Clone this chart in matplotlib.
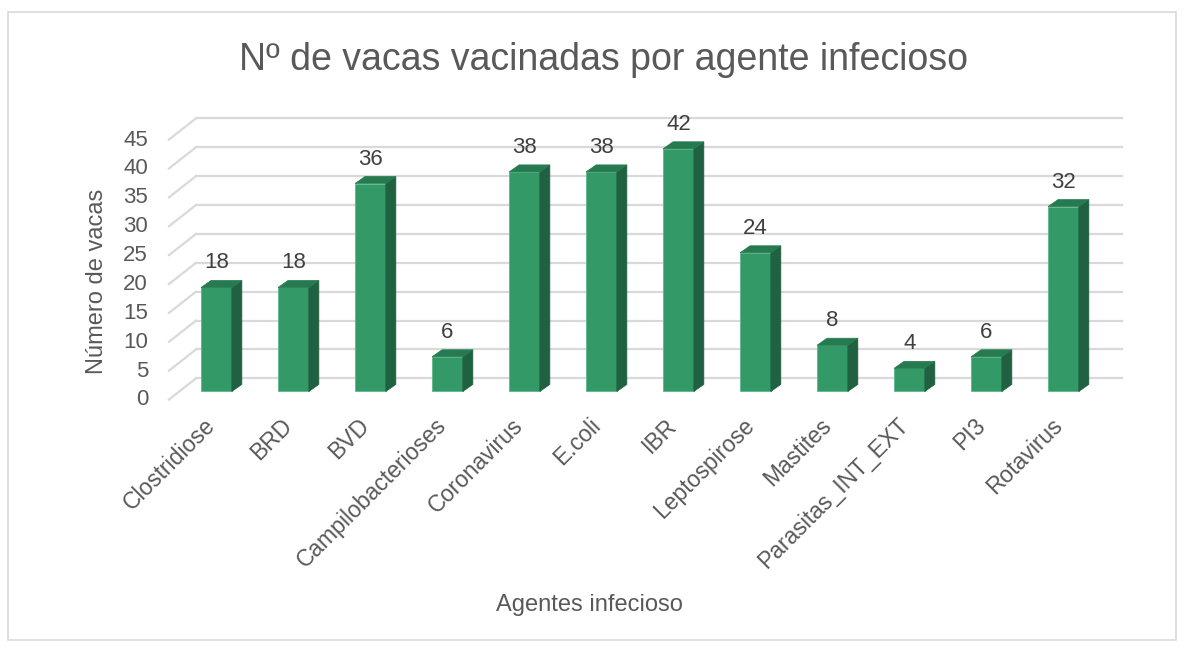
import matplotlib.pyplot as plt
from matplotlib.patches import Polygon, Rectangle
from matplotlib.transforms import ScaledTranslation

agentes = ["Clostridiose", "BRD", "BVD", "Campilobacterioses", "Coronavirus",
           "E.coli", "IBR", "Leptospirose", "Mastites", "Parasitas_INT_EXT",
           "PI3", "Rotavirus"]
vacas = [18, 18, 36, 6, 38, 38, 42, 24, 8, 4, 6, 32]
yticks = [0, 5, 10, 15, 20, 25, 30, 35, 40, 45]

front = "#339966"
side = "#1f6140"
top = "#267a50"
grid = "#d9d9d9"
txt = "#595959"

plt.rcParams["font.family"] = ["Liberation Sans", "DejaVu Sans"]

fig = plt.figure(figsize=(11.84, 6.48), dpi=100)
# chart border
fig.patches.append(Rectangle((0.007, 0.012), 0.986, 0.97, transform=fig.transFigure,
                             fill=False, edgecolor=grid, lw=1.2))

ax = fig.add_axes([0.1438, 0.3825, 0.8129, 0.4413])
ax.set_xlim(-0.6, 11.9)
ax.set_ylim(-1.5, 48)
for s in ax.spines.values():
    s.set_visible(False)

# back wall gridlines + floor diagonals
for v in yticks:
    ax.plot([-0.266, 11.76], [v + 2.27, v + 2.27], color=grid, lw=1.6, zorder=1, clip_on=False)
    ax.plot([-0.617, -0.266], [v - 1.4, v + 2.27], color=grid, lw=1.6, zorder=1, clip_on=False)

w = 0.4
dx, dy = 0.13, 1.22
x = list(range(len(agentes)))
ax.bar(x, vacas, width=w, color=front, edgecolor="#5cb88a", lw=0.6, zorder=3)
for xi, v in zip(x, vacas):
    r = xi + w / 2
    l = xi - w / 2
    ax.add_patch(Polygon([(r, 0), (r, v), (r + dx, v + dy), (r + dx, dy)],
                         closed=True, facecolor=side, edgecolor=side, lw=0.5, zorder=3))
    ax.add_patch(Polygon([(l, v), (r, v), (r + dx, v + dy), (l + dx, v + dy)],
                         closed=True, facecolor=top, edgecolor=top, lw=0.5, zorder=3))
    ax.annotate(str(v), (xi, v + dy), xytext=(0, 5), textcoords="offset points",
                ha="center", va="bottom", fontsize=16, color="#404040")

ax.set_yticks(yticks)
ax.set_yticklabels([str(t) for t in yticks], fontsize=16, color=txt)
ax.tick_params(axis="y", length=0, pad=16)
off = ScaledTranslation(0, -6 / 100, fig.dpi_scale_trans)
for lab in ax.get_yticklabels():
    lab.set_transform(lab.get_transform() + off)

ax.set_xticks(x)
ax.set_xticklabels(agentes, rotation=45, ha="right", va="top", rotation_mode="anchor",
                   fontsize=16.5, color=txt)
ax.tick_params(axis="x", length=0, pad=10)
offx = ScaledTranslation(-13 / 100, 0, fig.dpi_scale_trans)
for lab in ax.get_xticklabels():
    lab.set_transform(lab.get_transform() + offx)

fig.text(97 / 1184, 1 - 281 / 648, "Número de vacas", rotation=90, ha="center", va="center",
         fontsize=17, color=txt)
fig.text(0.498, 0.066, "Agentes infecioso", ha="center", va="center", fontsize=17, color=txt)
fig.text(0.510, 0.908, "Nº de vacas vacinadas por agente infecioso", ha="center", va="center",
         fontsize=27, color=txt)

plt.savefig("out.png", dpi=100)
